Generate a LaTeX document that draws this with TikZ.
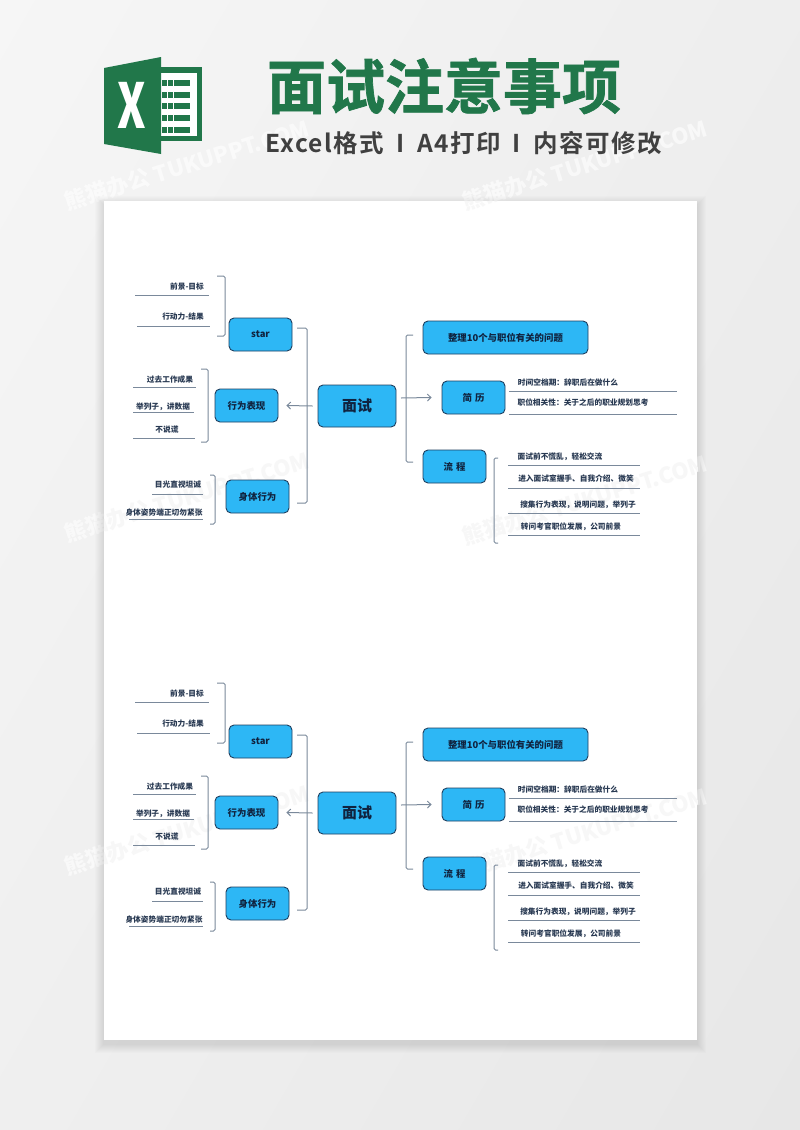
\documentclass[tikz,border=0pt]{standalone}
\usepackage{fontspec}
\setmainfont{Noto Sans CJK SC}
\newfontfamily\titlefont[FakeBold=1.2]{Noto Sans CJK SC Bold}
\newfontfamily\subfont[LetterSpace=6]{Noto Sans CJK SC Bold}
\usepackage{xcolor}
\usetikzlibrary{positioning,calc,arrows.meta}
\definecolor{boxblue}{HTML}{2DB7F5}
\definecolor{boxline}{HTML}{1F3F5F}
\definecolor{rulegray}{HTML}{7A899B}
\definecolor{xlgreen}{HTML}{21774A}
\definecolor{inkblue}{HTML}{10233F}
\tikzset{
    topicbox/.style={draw=boxline, fill=boxblue, line width=0.9pt, rounded corners=5pt, inner sep=0pt, font=\bfseries\fontsize{9.4}{9.4}\selectfont, text=inkblue},
    itemtext/.style={font=\fontsize{7.7}{8}\selectfont\bfseries, text=inkblue!90!white, inner sep=0pt},
    bracket/.style={draw=rulegray, line width=1pt, rounded corners=1.5pt},
    itemline/.style={draw=rulegray, line width=1pt},
    arrowline/.style={draw=rulegray, line width=1pt, -{Straight Barb[length=3.5pt,width=7pt]}},
    wmark/.style={font=\bfseries\fontsize{22}{22}\selectfont, rotate=17, inner sep=0pt}
}
\begin{document}
\begin{tikzpicture}[x=1pt, y=-1pt]
    \useasboundingbox (0,0) rectangle (800,1130);
    % Backdrop and sheet
    \shade[left color=black!3, right color=black!10, shading angle=60] (-300,-300) rectangle (1100,1430);
    \foreach \wx/\wy in {187/165,585/165,187/497,585/500,187/830,585/833} {
        \node[wmark, text=white, text opacity=0.6] at (\wx,\wy) {熊猫办公 TUKUPPT.COM};
    }
    \foreach \s in {1,...,9} {
        \fill[black, opacity=0.012] (104-\s,201-\s+4) rectangle (697+\s,1040+\s+4);
    }
    \fill[white] (104,201) rectangle (697,1040);
    \begin{scope}
        \clip (104,201) rectangle (697,1040);
        \foreach \wx/\wy in {187/165,585/165,187/497,585/500,187/830,585/833} {
            \node[wmark, text=black!3] at (\wx,\wy) {熊猫办公 TUKUPPT.COM};
        }
    \end{scope}

    % Logo
    \fill[xlgreen] (161,67) rectangle (202,141);
    \fill[white] (161,73) rectangle (197,136);
    \foreach \ry/\rh in {80/6,92/6,103/6,115/6,127/6} {
        \fill[xlgreen] (162,\ry) rectangle (167,\ry+\rh);
        \fill[xlgreen] (168,\ry) rectangle (173,\ry+\rh);
        \fill[xlgreen] (174,\ry) rectangle (190,\ry+\rh);
    }
    \fill[xlgreen] (104,68) -- (161,57) -- (161,154) -- (104,144) -- cycle;
    \node[font=\bfseries\fontsize{62}{62}\selectfont, text=white, inner sep=0pt] (logox) at (132,105) {\scalebox{0.7}[1]{X}};

    % Title
    \node[font=\titlefont\fontsize{59}{59}\selectfont, text=xlgreen, inner sep=0pt] (title) at (444,86) {面试注意事项};
    \node[font=\subfont\fontsize{24.5}{24.5}\selectfont, text=black!75, inner sep=0pt, anchor=west] (subtitle) at (265,143) {Excel格式\hspace{12pt}I\hspace{13pt}A4打印\hspace{12pt}I\hspace{13pt}内容可修改};

    % Two copies of the same map on the sheet
    \foreach \c/\dy in {a/0,b/407} {
        \begin{scope}[yshift=-\dy pt]
            % Centre and first level boxes
            \node[topicbox, minimum width=78pt, minimum height=42pt, font=\bfseries\fontsize{15}{15}\selectfont] (mian\c) at (357,406) {面试};
            \node[topicbox, minimum width=63pt, minimum height=33pt] (star\c) at (260.5,334.5) {star};
            \node[topicbox, minimum width=63pt, minimum height=33pt] (biaoxian\c) at (246.5,405.5) {行为表现};
            \node[topicbox, minimum width=63pt, minimum height=33pt] (shenti\c) at (257.5,496.5) {身体行为};
            \node[topicbox, minimum width=165pt, minimum height=33pt] (zhengli\c) at (505.5,337.5) {整理10个与职位有关的问题};
            \node[topicbox, minimum width=63pt, minimum height=33pt] (jianli\c) at (473.5,397.5) {简\hspace{3pt}历};
            \node[topicbox, minimum width=63pt, minimum height=33pt] (liucheng\c) at (454.5,466.5) {流\hspace{3pt}程};

            % Arrows and main brackets
            \coordinate (lefttop\c) at (297,328);
            \coordinate (leftbot\c) at (297,503);
            \coordinate (rightout\c) at (401,398);
            \coordinate (righttop\c) at (413,335);
            \coordinate (rightbot\c) at (413,462);
            \draw[bracket] (lefttop\c) -- ++(10,0) |- (leftbot\c);
            \draw[bracket] (righttop\c) -- ++(-7,0) |- (rightbot\c);
            \draw[arrowline] ([xshift=-5pt]mian\c.west) -- ([xshift=8pt]biaoxian\c.east);
            \draw[arrowline] (rightout\c) -- ([xshift=-10pt]jianli\c.west);

            % Left items
            \coordinate (sa\c) at (217,276);
            \coordinate (sb\c) at (217,336);
            \draw[bracket] (sa\c) -- ++(8,0) |- (sb\c);
            \coordinate (xa\c) at (201,369);
            \coordinate (xb\c) at (201,442);
            \draw[bracket] (xa\c) -- ++(7,0) |- (xb\c);
            \coordinate (ta\c) at (210,475);
            \coordinate (tb\c) at (210,524);
            \draw[bracket] (ta\c) -- ++(5,0) |- (tb\c);
            \foreach \tx/\ty/\la/\lb/\ly/\txt in {
                187/287/135/209/295/前景-目标,
                183/317/137/210/326/行动力-结果,
                170/380/133/196/387/过去工作成果,
                163/407/133/194/412/举列子，讲数据,
                167/430/133/195/438/不说谎,
                178/485/152/203/494/目光直视坦诚,
                164/513/129/203/519/身体姿势端正切勿紧张,
                568/383/509/677/391/时间空档期：辞职后在做什么,
                583/403/509/677/414/职位相关性：关于之后的职业规划思考,
                560/457/508/640/465/面试前不慌乱，轻松交流,
                576/479/508/640/488/进入面试室握手、自我介绍、微笑,
                578/505/508/640/513/搜集行为表现，说明问题，举列子,
                571/527/508/640/535/转问考官职位发展，公司前景} {
                \node[itemtext] at (\tx,\ty) {\txt};
                \draw[itemline] (\la,\ly) -- (\lb,\ly);
            }

            % Right bracket of the last group
            \coordinate (la\c) at (498,458);
            \coordinate (lb\c) at (498,543);
            \draw[bracket] (la\c) -- ++(-4,0) |- (lb\c);
        \end{scope}
    }
\end{tikzpicture}
\end{document}
